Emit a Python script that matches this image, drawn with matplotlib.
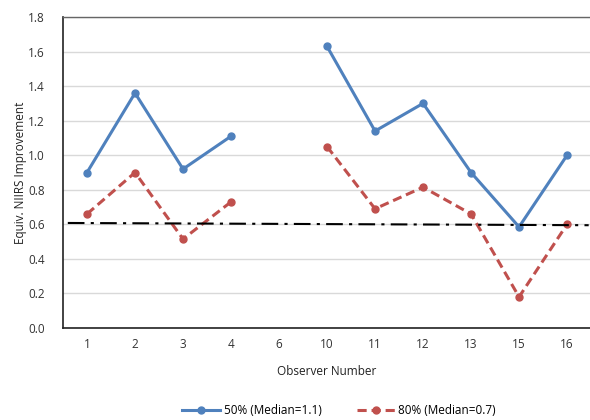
import matplotlib
matplotlib.use("Agg")
import matplotlib.pyplot as plt
import numpy as np

categories = ["1", "2", "3", "4", "6", "10", "11", "12", "13", "15", "16"]
series_50 = [0.90, 1.36, 0.92, 1.11, np.nan, 1.63, 1.14, 1.30, 0.90, 0.585, 1.00]
series_80 = [0.66, 0.90, 0.515, 0.73, np.nan, 1.05, 0.69, 0.815, 0.66, 0.18, 0.60]
ref_line_x = [-0.4, 10.45]
ref_line_y = [0.608, 0.595]
yticks = [0.0, 0.2, 0.4, 0.6, 0.8, 1.0, 1.2, 1.4, 1.6, 1.8]

plt.rcParams['font.family'] = ['Open Sans', 'DejaVu Sans']

fig = plt.figure(figsize=(5.9, 4.2), dpi=100)
ax = fig.add_axes([0.1068, 0.219, 0.895, 0.7405])

x = np.arange(len(categories))
blue = "#4F81BD"
red = "#C0504D"
ax.plot(x, series_50, color=blue, lw=2.2, marker="o", markersize=5, label="50% (Median=1.1)")
ax.plot(x, series_80, color=red, lw=2.2, ls=(0, (3, 1.6)), marker="o", markersize=5,
        label="80% (Median=0.7)")
ax.plot(ref_line_x, ref_line_y, color="black", lw=1.5, ls=(0, (8, 3, 1.5, 3)))

ax.set_xlim(-0.5, len(categories) - 0.5)
ax.set_ylim(0, 1.8)
ax.set_yticks(yticks)
ax.set_yticklabels([f"{v:.1f}" for v in yticks], fontsize=8.5, color="#333333")
ax.set_xticks(x)
ax.set_xticklabels(categories, fontsize=8.5, color="#333333")
ax.tick_params(axis="both", length=0, pad=7)
ax.tick_params(axis="y", pad=13)
ax.grid(axis="y", color="#D9D9D9", lw=1)
ax.set_axisbelow(True)

for s in ["left", "bottom"]:
    ax.spines[s].set_color("#222222")
    ax.spines[s].set_linewidth(1.2)
ax.spines["top"].set_color("#666666")
ax.spines["top"].set_linewidth(1.0)
ax.spines["right"].set_visible(False)

ax.set_ylabel("Equiv. NIIRS Improvement", fontsize=8.5, color="#222222", labelpad=1)
ax.set_xlabel("Observer Number", fontsize=8.5, color="#222222", labelpad=10)

leg = fig.legend(loc="center", bbox_to_anchor=(0.575, 0.022), ncol=2, frameon=False,
                 fontsize=8.5, handlelength=3.2, columnspacing=3, handletextpad=0.3)

fig.savefig("out.png", dpi=100)
